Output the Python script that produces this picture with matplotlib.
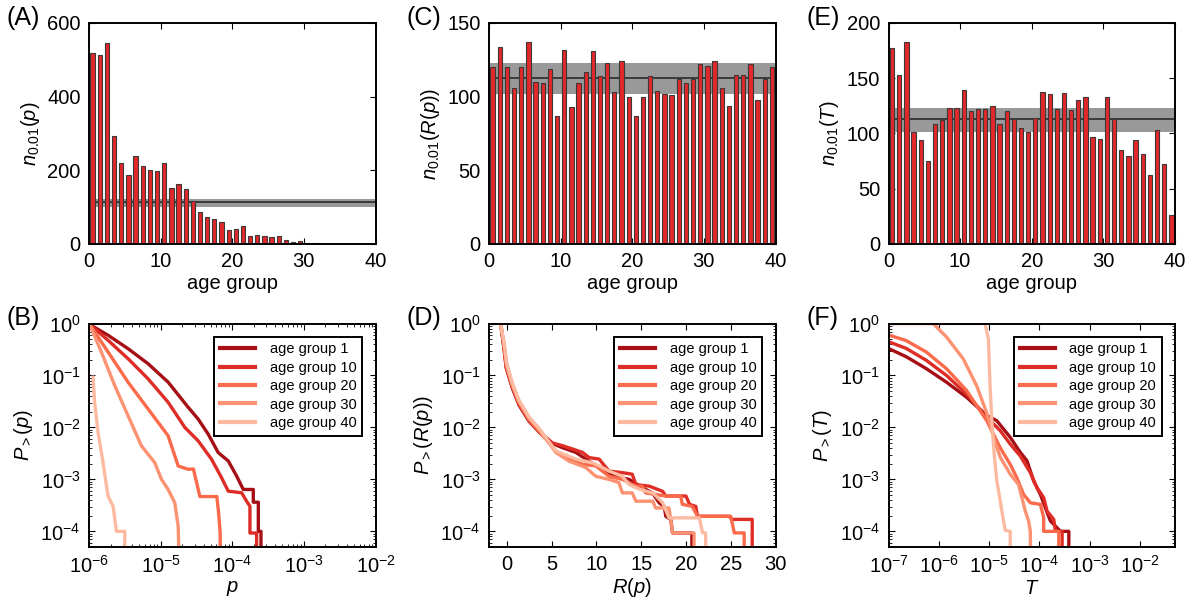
import numpy as np
import matplotlib.pyplot as plt

plt.rcParams['font.family'] = ['Liberation Sans', 'DejaVu Sans']
plt.rcParams['mathtext.fontset'] = 'custom'
plt.rcParams['mathtext.rm'] = 'Liberation Sans'
plt.rcParams['mathtext.it'] = 'Liberation Sans:italic'
plt.rcParams['font.size'] = 14.5
plt.rcParams['axes.linewidth'] = 1.4
plt.rcParams['xtick.direction'] = 'in'
plt.rcParams['ytick.direction'] = 'in'
plt.rcParams['xtick.top'] = True
plt.rcParams['ytick.right'] = True
plt.rcParams['xtick.major.size'] = 4
plt.rcParams['ytick.major.size'] = 4
plt.rcParams['xtick.minor.size'] = 2
plt.rcParams['ytick.minor.size'] = 2
plt.rcParams['xtick.major.pad'] = 6
plt.rcParams['ytick.major.pad'] = 6

# --- top row: counts per age group ---
ages = np.arange(1, 41)
n_p = [519, 512, 546, 294, 219, 187, 238, 213, 202, 199, 219, 153, 163, 150, 117,
       86, 72, 68, 60, 39, 42, 50, 21, 25, 23, 19, 22, 12, 5, 8,
       4, 2, 1, 1, 1, 1, 1, 0, 1, 0]
n_rp = [120, 134, 120, 106, 120, 137, 110, 109, 119, 87, 132, 93, 109, 117, 131,
        114, 123, 103, 124, 100, 87, 100, 114, 104, 102, 101, 112, 109, 112, 122,
        121, 124, 106, 94, 115, 115, 122, 98, 112, 120]
n_T = [177, 153, 183, 101, 94, 75, 109, 112, 123, 123, 139, 120, 122, 122, 125,
       109, 120, 113, 105, 101, 114, 138, 136, 122, 137, 121, 130, 133, 97, 95,
       133, 113, 85, 80, 94, 81, 62, 103, 72, 26]
band_mean, band_lo, band_hi = 113, 101.5, 123

# --- bottom row: complementary cumulative distributions (log10 values) ---
groups = ['age group 1', 'age group 10', 'age group 20', 'age group 30', 'age group 40']
colors = ['#a50f15', '#de2d26', '#fb6a4a', '#fc9272', '#fcbba1']

B1_lx = [-5.99, -5.734, -5.455, -5.175, -4.895, -4.615, -4.476, -4.336, -4.196, -4.056, -3.939, -3.846, -3.706, -3.706, -3.636, -3.636, -3.599, -3.599]
B1_ly = [-0.02, -0.226, -0.484, -0.774, -1.129, -1.613, -1.839, -2.129, -2.484, -2.645, -2.935, -3.194, -3.194, -3.439, -3.439, -4.0, -4.0, -5]
B10_lx = [-5.99, -5.734, -5.455, -5.175, -4.895, -4.662, -4.476, -4.289, -4.149, -4.056, -3.869, -3.8, -3.753, -3.753, -3.66, -3.66]
B10_ly = [-0.02, -0.323, -0.677, -1.065, -1.516, -2.0, -2.258, -2.613, -2.968, -3.226, -3.258, -3.419, -3.516, -4.032, -4.032, -5]
B20_lx = [-5.99, -5.734, -5.455, -5.175, -4.895, -4.755, -4.615, -4.542, -4.452, -4.266, -4.215, -4.19, -4.168, -4.168]
B20_ly = [-0.02, -0.548, -1.129, -1.645, -2.161, -2.742, -2.806, -2.8, -3.33, -3.33, -3.33, -3.65, -4.04, -5]
B30_lx = [-5.99, -5.828, -5.641, -5.455, -5.268, -5.082, -4.988, -4.895, -4.802, -4.755, -4.732]
B30_ly = [-0.02, -0.548, -1.194, -1.774, -2.355, -2.677, -3.0, -3.194, -3.452, -3.903, -5]
B40_lx = [-5.944, -5.921, -5.874, -5.804, -5.734, -5.664, -5.617, -5.5, -5.5]
B40_ly = [-1.032, -1.516, -2.097, -2.677, -3.323, -3.516, -4.0, -4.0, -5]

D1_x = [-0.7, -0.35, -0.08, 0.6, 1.35, 2.47, 3.6, 5.1, 6.2, 7.69, 9.18, 10.67, 12.16, 13.65, 15.15, 16.26, 17.0, 17.57, 17.75, 18.3, 18.5, 20.66, 20.66]
D1_ly = [0, -0.45, -0.85, -1.24, -1.57, -1.88, -2.09, -2.31, -2.39, -2.48, -2.65, -2.81, -2.94, -3.0, -3.16, -3.26, -3.45, -3.52, -3.71, -3.77, -4.03, -4.03, -5]
D10_x = [-0.7, -0.35, -0.08, 0.6, 1.35, 2.47, 3.6, 5.1, 6.2, 8.44, 9.18, 10.3, 11.4, 12.9, 14.0, 14.4, 15.9, 17.4, 17.75, 20.0, 20.4, 21.1, 21.3, 24.8, 25.2, 27.4, 27.4]
D10_ly = [0, -0.44, -0.84, -1.22, -1.55, -1.86, -2.08, -2.30, -2.35, -2.48, -2.58, -2.61, -2.84, -2.87, -2.90, -3.1, -3.13, -3.23, -3.32, -3.32, -3.48, -3.52, -3.71, -3.71, -3.77, -3.77, -5]
D20_x = [-0.7, -0.33, -0.06, 0.6, 1.35, 2.47, 3.6, 5.45, 6.95, 8.44, 9.93, 11.4, 12.9, 14.4, 15.1, 15.5, 17.75, 19.4, 19.6, 20.7, 21.3, 25.0, 25.4, 26.5, 26.5]
D20_ly = [0, -0.43, -0.82, -1.2, -1.53, -1.85, -2.07, -2.45, -2.61, -2.71, -2.74, -2.94, -3.0, -3.13, -3.13, -3.26, -3.32, -3.32, -3.48, -3.52, -3.71, -3.71, -4.03, -4.03, -5]
D30_x = [-0.7, -0.3, -0.03, 0.6, 1.35, 2.47, 3.6, 5.45, 6.95, 8.8, 9.93, 11.4, 12.5, 12.9, 14.0, 14.4, 16.3, 16.6, 18.1, 18.3, 18.5, 20.9, 20.9]
D30_ly = [0, -0.4, -0.78, -1.16, -1.49, -1.81, -2.03, -2.48, -2.65, -2.77, -2.94, -3.0, -3.06, -3.26, -3.26, -3.42, -3.42, -3.55, -3.55, -3.77, -4.03, -4.03, -5]
D40_x = [-0.7, -0.3, -0.03, 0.6, 1.35, 2.47, 3.6, 5.45, 7.69, 9.55, 10.3, 11.4, 12.9, 13.65, 14.8, 16.3, 17.4, 18.1, 21.5, 21.85, 22.2, 22.2]
D40_ly = [0, -0.39, -0.77, -1.15, -1.48, -1.8, -2.02, -2.45, -2.61, -2.68, -2.74, -2.84, -2.94, -3.1, -3.19, -3.26, -3.45, -3.74, -3.74, -4.03, -4.03, -5]

F1_lx = [-7.0, -6.646, -6.246, -5.846, -5.446, -5.046, -4.846, -4.579, -4.379, -4.246, -4.113, -3.979, -3.879, -3.779, -3.579, -3.413, -3.413]
F1_ly = [-0.48, -0.64, -0.87, -1.13, -1.42, -1.77, -1.87, -2.19, -2.48, -2.64, -3.03, -3.29, -3.55, -3.8, -4.0, -4.0, -5]
F10_lx = [-7.0, -6.646, -6.246, -5.846, -5.446, -5.046, -4.779, -4.579, -4.379, -4.179, -4.046, -3.913, -3.846, -3.713, -3.679, -3.546, -3.546]
F10_ly = [-0.35, -0.48, -0.71, -1.0, -1.36, -1.8, -2.06, -2.32, -2.55, -2.87, -3.16, -3.35, -3.61, -3.77, -4.0, -4.0, -5]
F20_lx = [-7.0, -6.646, -6.246, -5.846, -5.446, -5.046, -4.779, -4.579, -4.446, -4.313, -4.179, -3.979, -3.913, -3.913, -3.613, -3.613]
F20_ly = [-0.22, -0.33, -0.55, -0.87, -1.29, -1.87, -2.39, -2.71, -2.97, -3.29, -3.45, -3.48, -3.74, -4.0, -4.0, -5]
F30_lx = [-7.0, -6.113, -5.846, -5.513, -5.246, -5.046, -4.913, -4.779, -4.579, -4.413, -4.346, -4.279, -4.213, -4.179, -4.17]
F30_ly = [0, 0, -0.26, -0.68, -1.2, -1.72, -2.18, -2.57, -2.9, -3.1, -3.35, -3.61, -3.8, -4.0, -5]
F40_lx = [-7.0, -5.08, -5.013, -4.98, -4.946, -4.899, -4.846, -4.746, -4.679, -4.579, -4.579]
F40_ly = [0, 0, -0.3, -1.2, -1.85, -2.5, -3.02, -3.6, -3.98, -4.0, -5]

fig = plt.figure(figsize=(11.91, 5.98), dpi=100)
W, H = 1191.0, 598.0
lefts = [89, 489, 888.5]
ax_w = 286.5


def bar_panel(left, vals, ymax, yticks, ylabel, label):
    ax = fig.add_axes([left / W, 1 - 244 / H, ax_w / W, 221 / H])
    ax.axhspan(band_lo, band_hi, color='#999999', lw=0, zorder=1)
    ax.axhline(band_mean, color='#333333', lw=1.3, zorder=1.5)
    ax.bar(ages - 0.5, vals, width=0.6, color='#e3282b', edgecolor='#3a3a3a',
           linewidth=0.8, zorder=2)
    ax.set_xlim(0, 40)
    ax.set_ylim(0, ymax)
    ax.set_xticks([0, 10, 20, 30, 40])
    ax.set_yticks(yticks)
    ax.set_xlabel('age group', labelpad=2)
    ax.set_ylabel(ylabel)
    fig.text((left - 82) / W, 1 - 6 / H, label, fontsize=18, va='top')
    return ax


def ccdf_panel(left, curves, xlabel, ylabel, label, logx, xlim, xticks):
    ax = fig.add_axes([left / W, 1 - 547 / H, ax_w / W, 223.5 / H])
    for (xs, ly), c, g in zip(curves, colors, groups):
        xv = 10 ** np.array(xs) if logx else np.array(xs)
        ax.plot(xv, 10 ** np.array(ly), color=c, lw=2.4, label=g)
    ax.set_yscale('log')
    if logx:
        ax.set_xscale('log')
    ax.set_xlim(*xlim)
    ax.set_ylim(5e-5, 1)
    ax.set_xticks(xticks)
    ax.set_yticks([1e0, 1e-1, 1e-2, 1e-3, 1e-4])
    ax.set_xlabel(xlabel, labelpad=1)
    ax.set_ylabel(ylabel)
    leg = ax.legend(loc='upper right', fontsize=10.5, fancybox=False, framealpha=1,
                    edgecolor='black', handlelength=2.4, handletextpad=1.0,
                    labelspacing=0.3, borderaxespad=0.9)
    leg.get_frame().set_linewidth(1.4)
    for h in leg.get_lines():
        h.set_linewidth(3)
    fig.text((left - 82) / W, 1 - 306 / H, label, fontsize=18, va='top')
    return ax


bar_panel(lefts[0], n_p, 600, [0, 200, 400, 600], '$n_{0.01}(p)$', '(A)')
bar_panel(lefts[1], n_rp, 150, [0, 50, 100, 150], '$n_{0.01}(R(p))$', '(C)')
bar_panel(lefts[2], n_T, 200, [0, 50, 100, 150, 200], '$n_{0.01}(T)$', '(E)')

ccdf_panel(lefts[0], [(B1_lx, B1_ly), (B10_lx, B10_ly), (B20_lx, B20_ly),
                      (B30_lx, B30_ly), (B40_lx, B40_ly)],
           '$p$', '$P_{>}(p)$', '(B)', True, (1e-6, 1e-2), [1e-6, 1e-5, 1e-4, 1e-3, 1e-2])
ccdf_panel(lefts[1], [(D1_x, D1_ly), (D10_x, D10_ly), (D20_x, D20_ly),
                      (D30_x, D30_ly), (D40_x, D40_ly)],
           '$R(p)$', '$P_{>}(R(p))$', '(D)', False, (-2, 30), [0, 5, 10, 15, 20, 25, 30])
ccdf_panel(lefts[2], [(F1_lx, F1_ly), (F10_lx, F10_ly), (F20_lx, F20_ly),
                      (F30_lx, F30_ly), (F40_lx, F40_ly)],
           '$T$', '$P_{>}(T)$', '(F)', True, (1e-7, 5e-2), [1e-7, 1e-6, 1e-5, 1e-4, 1e-3, 1e-2])

fig.savefig('out.png', dpi=100)
